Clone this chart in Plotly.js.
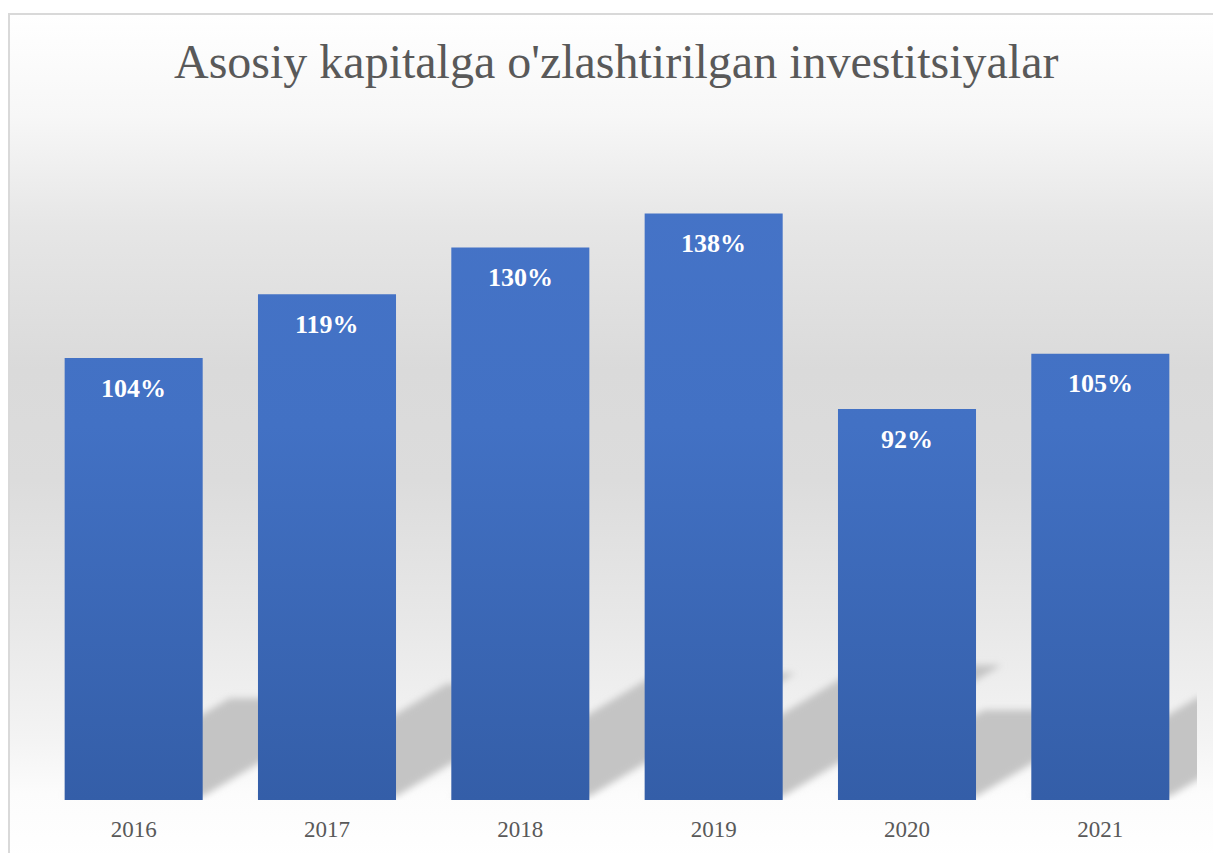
<!DOCTYPE html>
<html>
<head>
<meta charset="utf-8">
<script src="https://cdn.plot.ly/plotly-3.0.1.min.js"></script>
<style>
  html, body { margin: 0; padding: 0; background: #ffffff; }
  #wrap { position: relative; width: 1213px; height: 853px; overflow: hidden; }
  #frame {
    position: absolute; left: 8px; top: 13px; width: 1210px; height: 850px;
    box-sizing: border-box; border: 2px solid #d9d9d9;
    background: linear-gradient(to bottom, #ffffff 0%, #f7f7f7 12%, #e6e6e6 25%, #dadada 42%, #dcdcdc 55%, #e8e8e8 72%, #f4f4f4 86%, #fcfcfc 92%, #ffffff 100%);
  }
  #chart { position: absolute; left: 0; top: 0; width: 1213px; height: 853px; }
</style>
</head>
<body>
<div id="wrap">
  <div id="frame"></div>
  <div id="chart"></div>
</div>
<script>
const years = ['2016', '2017', '2018', '2019', '2020', '2021'];
const values = [104, 119, 130, 138, 92, 105];
const labels = ['104%', '119%', '130%', '138%', '92%', '105%'];

const serif = '"Liberation Serif", "Times New Roman", serif';
const BARGAP = 0.286;

const trace = {
  type: 'bar',
  x: years,
  y: values,
  marker: { color: '#3f6bbb', line: { width: 0 } },
  hoverinfo: 'none'
};

// category axis: annotation x given as category index
const annotations = years.map((yr, i) => ({
  x: i, y: values[i], xref: 'x', yref: 'y',
  text: '<b>' + labels[i] + '</b>',
  showarrow: false, yanchor: 'middle', yshift: -30,
  font: { family: serif, size: 26, color: '#ffffff' }
}));

// soft perspective "floor" shadows behind each bar, derived from the bar values
const half = (1 - BARGAP) / 2;
const shadows = values.map((v, i) => {
  const dy = v * 0.23;          // shadow depth in y units
  const dx = v * 0.0082;        // shadow horizontal shift in category units
  const L = i - half, R = i + half;
  return {
    type: 'path', xref: 'x', yref: 'y', layer: 'below',
    path: `M ${L},0.8 L ${R},0.8 L ${R + dx},${dy} L ${L + dx},${dy} Z`,
    fillcolor: '#c4c4c4', line: { width: 0 }
  };
});

const layout = {
  width: 1213, height: 853,
  margin: { l: 37, r: 16, t: 120, b: 53 },
  paper_bgcolor: 'rgba(0,0,0,0)',
  plot_bgcolor: 'rgba(0,0,0,0)',
  title: {
    text: "Asosiy kapitalga o'zlashtirilgan investitsiyalar",
    font: { family: serif, size: 48, color: '#595959' },
    x: 0.508, xanchor: 'center', y: 0.928, yanchor: 'middle'
  },
  bargap: BARGAP,
  xaxis: {
    type: 'category',
    categoryorder: 'array', categoryarray: years,
    range: [-0.5, years.length - 0.5], autorange: false,
    showgrid: false, zeroline: false, showline: false, ticks: '',
    ticklabelstandoff: 13,
    tickfont: { family: serif, size: 23, color: '#595959' }
  },
  yaxis: {
    range: [0, 160], autorange: false, visible: false, showgrid: false, zeroline: false
  },
  shapes: shadows,
  annotations: annotations,
  showlegend: false
};

Plotly.newPlot('chart', [trace], layout, { displayModeBar: false, staticPlot: true }).then(gd => {
  const svg = gd.querySelector('svg.main-svg');
  const ns = 'http://www.w3.org/2000/svg';
  let defs = svg.querySelector('defs');
  if (!defs) { defs = document.createElementNS(ns, 'defs'); svg.insertBefore(defs, svg.firstChild); }
  const grad = document.createElementNS(ns, 'linearGradient');
  grad.setAttribute('id', 'barGrad');
  grad.setAttribute('gradientUnits', 'userSpaceOnUse');
  grad.setAttribute('x1', '0'); grad.setAttribute('x2', '0');
  grad.setAttribute('y1', '0'); grad.setAttribute('y2', '680');
  const stops = [['0', '#4674c8'], ['0.45', '#4271c4'], ['1', '#345ea8']];
  stops.forEach(([o, c]) => {
    const s = document.createElementNS(ns, 'stop');
    s.setAttribute('offset', o); s.setAttribute('stop-color', c);
    grad.appendChild(s);
  });
  defs.appendChild(grad);
  const filt = document.createElementNS(ns, 'filter');
  filt.setAttribute('id', 'softBlur');
  filt.setAttribute('filterUnits', 'userSpaceOnUse');
  filt.setAttribute('x', '0'); filt.setAttribute('y', '0');
  filt.setAttribute('width', '1213'); filt.setAttribute('height', '853');
  const blur = document.createElementNS(ns, 'feGaussianBlur');
  blur.setAttribute('stdDeviation', '3.5');
  filt.appendChild(blur);
  defs.appendChild(filt);
  gd.querySelectorAll('.barlayer .point path').forEach(p => {
    p.style.fill = 'url(#barGrad)';
  });
  gd.querySelectorAll('.shapelayer path').forEach(p => {
    p.style.filter = 'url(#softBlur)';
  });
});
</script>
</body>
</html>
